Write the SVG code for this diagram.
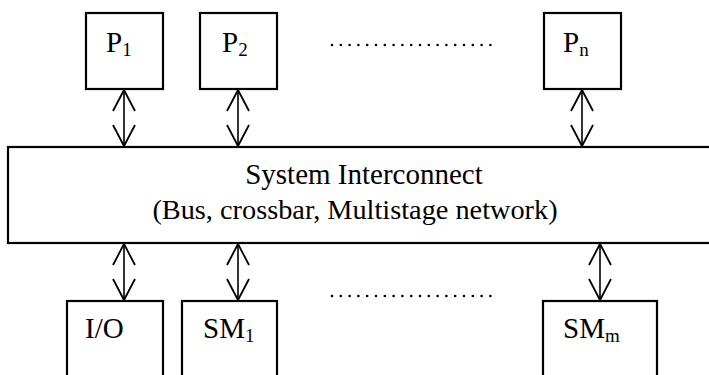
<svg xmlns="http://www.w3.org/2000/svg" width="709" height="375" viewBox="0 0 709 375">
<style>
.box{fill:#fff;stroke:#000;stroke-width:2.2}
.lbl{font-family:"Liberation Serif","Times New Roman",serif;font-size:29px;fill:#000}
.sub{font-size:19px}
.conn{stroke:#000;stroke-width:1.6;fill:none}
.dots{stroke:#000;stroke-width:2.6;stroke-linecap:round;stroke-dasharray:0 8.8;fill:none}
</style>
<defs>
<marker id="ah" viewBox="0 0 24 24" refX="22" refY="12" markerWidth="24" markerHeight="24" markerUnits="userSpaceOnUse" orient="auto-start-reverse">
<path d="M1,1 L22,12 L1,23" fill="none" stroke="#000" stroke-width="1.8"/>
</marker>
</defs>
<g id="P1"><rect class="box" x="86" y="13" width="77" height="76"/><text class="lbl" x="106" y="52">P<tspan class="sub" dy="4">1</tspan></text></g>
<g id="P2"><rect class="box" x="200" y="13" width="77" height="76"/><text class="lbl" x="222" y="52">P<tspan class="sub" dy="4">2</tspan></text></g>
<g id="Pn"><rect class="box" x="544" y="13" width="77" height="76"/><text class="lbl" x="563" y="52">P<tspan class="sub" dy="4">n</tspan></text></g>
<g id="interconnect"><rect class="box" x="8" y="147" width="710" height="96"/>
<text class="lbl" x="364" y="184" text-anchor="middle">System Interconnect</text>
<text class="lbl" x="355" y="219" text-anchor="middle" style="font-size:28.3px">(Bus, crossbar, Multistage network)</text></g>
<g id="IO"><rect class="box" x="67" y="301" width="96" height="90"/><text class="lbl" x="85" y="338">I/O</text></g>
<g id="SM1"><rect class="box" x="182" y="301" width="95" height="90"/><text class="lbl" x="203" y="338">SM<tspan class="sub" dy="4">1</tspan></text></g>
<g id="SMm"><rect class="box" x="543" y="301" width="114" height="90"/><text class="lbl" x="563" y="338">SM<tspan class="sub" dy="4">m</tspan></text></g>
<g id="ellipsis"><path class="dots" d="M332,45 H493"/><path class="dots" d="M332,296 H493"/></g>
<g id="connectors">
<path class="conn" d="M124,90 V146" marker-start="url(#ah)" marker-end="url(#ah)"/>
<path class="conn" d="M238,90 V146" marker-start="url(#ah)" marker-end="url(#ah)"/>
<path class="conn" d="M582,90 V146" marker-start="url(#ah)" marker-end="url(#ah)"/>
<path class="conn" d="M124,244 V300" marker-start="url(#ah)" marker-end="url(#ah)"/>
<path class="conn" d="M238,244 V300" marker-start="url(#ah)" marker-end="url(#ah)"/>
<path class="conn" d="M600,244 V300" marker-start="url(#ah)" marker-end="url(#ah)"/>
</g>
</svg>
